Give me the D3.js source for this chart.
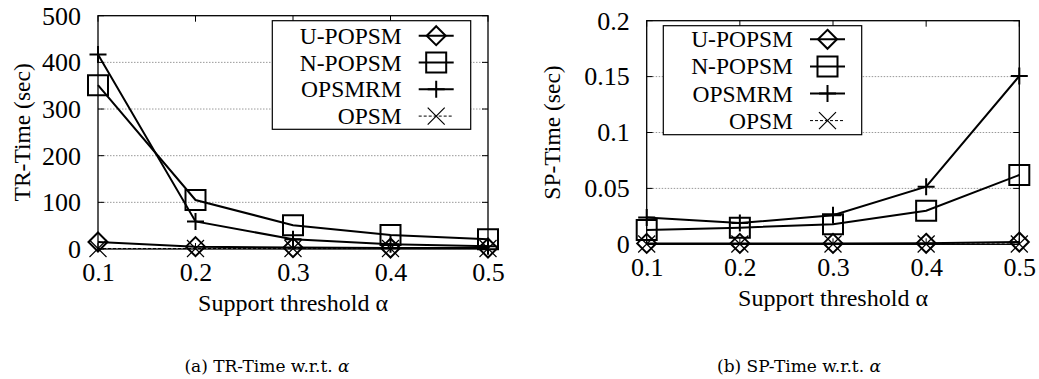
<!DOCTYPE html>
<html>
<head>
<meta charset="utf-8">
<script src="https://cdn.jsdelivr.net/npm/d3@7"></script>
<style>
  body { margin: 0; background: #fff; }
  svg { display: block; }
  text { font-family: "Liberation Serif", "Times New Roman", serif; fill: #000; }
  .caption { font-family: "DejaVu Serif", serif; }
</style>
</head>
<body>
<div id="chart"></div>
<script>
var width = 1039;
var height = 379;

// support threshold values on the x axis
var alphas = [0.1, 0.2, 0.3, 0.4, 0.5];
var seriesNames = ["U-POPSM", "N-POPSM", "OPSMRM", "OPSM"];
var markerKinds = ["diamond", "square", "plus", "cross"];

// (a) TR-Time in seconds
var trUPopsm = [15, 5, 3, 2, 2];
var trNPopsm = [351, 105, 51, 30, 21];
var trOpsmrm = [417, 59, 21, 10, 6];
var trOpsm = [1, 1, 1, 1, 1];
var trTicks = [0, 100, 200, 300, 400, 500];

// (b) SP-Time in seconds
var spUPopsm = [0.0008, 0.0008, 0.0008, 0.0009, 0.002];
var spNPopsm = [0.0128, 0.0149, 0.018, 0.030, 0.062];
var spOpsmrm = [0.024, 0.019, 0.026, 0.0515, 0.1505];
var spOpsm = [0.0003, 0.0003, 0.0003, 0.0003, 0.0003];
var spTicks = [0, 0.05, 0.1, 0.15, 0.2];

var svg = d3.select("#chart").append("svg")
  .attr("width", width)
  .attr("height", height);

var markerPath = function(kind){
  if (kind == "diamond") return "M0,-9.5L9.5,0L0,9.5L-9.5,0Z";
  if (kind == "square") return "M-10,-10H10V10H-10Z";
  if (kind == "plus") return "M-8.5,0H8.5M0,-8.5V8.5";
  return "M-8.5,-8.5L8.5,8.5M-8.5,8.5L8.5,-8.5";
};

var drawPanel = function(p){
  var x = d3.scaleLinear().domain([0.1, 0.5]).range([p.left, p.right]);
  var y = d3.scaleLinear().domain([0, p.ticks[p.ticks.length-1]]).range([p.bottom, p.top]);
  var g = svg.append("g");

  // dotted grid
  g.selectAll("line.grid").data(p.ticks.slice(1, -1)).enter().append("line")
    .attr("x1", p.left).attr("x2", p.right)
    .attr("y1", function(d){ return y(d); }).attr("y2", function(d){ return y(d); })
    .style("stroke", "#999").style("stroke-width", 1).style("stroke-dasharray", "1.5,1.5");

  // inward ticks on all four sides
  alphas.forEach(function(a){
    g.append("line").attr("x1", x(a)).attr("x2", x(a)).attr("y1", p.bottom).attr("y2", p.bottom-6).style("stroke", "#000");
    g.append("line").attr("x1", x(a)).attr("x2", x(a)).attr("y1", p.top).attr("y2", p.top+6).style("stroke", "#000");
  });
  p.ticks.forEach(function(t){
    g.append("line").attr("x1", p.left).attr("x2", p.left+6).attr("y1", y(t)).attr("y2", y(t)).style("stroke", "#000");
    g.append("line").attr("x1", p.right).attr("x2", p.right-6).attr("y1", y(t)).attr("y2", y(t)).style("stroke", "#000");
  });

  // tick labels via d3 axes
  var xAxis = g.append("g").attr("transform", "translate(0," + p.bottom + ")")
    .call(d3.axisBottom(x).tickValues(alphas).tickSize(0).tickPadding(p.xPad).tickFormat(d3.format(".1f")));
  var yAxis = g.append("g").attr("transform", "translate(" + p.left + ",0)")
    .call(d3.axisLeft(y).tickValues(p.ticks).tickSize(0).tickPadding(17).tickFormat(function(d){ return d3.format("~g")(d); }));
  [xAxis, yAxis].forEach(function(ax){
    ax.select(".domain").remove();
    ax.attr("font-family", "Liberation Serif").attr("font-size", 26);
    ax.selectAll("text").style("font-family", "Liberation Serif").style("font-size", "26px");
  });

  // frame
  g.append("rect").attr("x", p.left).attr("y", p.top)
    .attr("width", p.right - p.left).attr("height", p.bottom - p.top)
    .style("fill", "none").style("stroke", "#000").style("stroke-width", 1.3);

  // series
  var line = d3.line().x(function(d, i){ return x(alphas[i]); }).y(function(d){ return y(d); });
  p.series.forEach(function(vals, s){
    var dashed = s == 3;
    g.append("path").attr("d", line(vals))
      .style("fill", "none").style("stroke", "#000")
      .style("stroke-width", dashed ? 1 : 2)
      .style("stroke-dasharray", dashed ? "3,2" : null);
    g.selectAll("path.m" + s).data(vals).enter().append("path")
      .attr("transform", function(d, i){ return "translate(" + x(alphas[i]) + "," + y(d) + ")"; })
      .attr("d", markerPath(markerKinds[s]))
      .style("fill", "none").style("stroke", "#000").style("stroke-width", dashed ? 1.2 : 2);
  });

  // legend
  var lg = g.append("g");
  lg.append("rect").attr("x", p.legX).attr("y", p.legY)
    .attr("width", p.legW).attr("height", p.legH)
    .style("fill", "#fff").style("stroke", "#000").style("stroke-width", 1.2);
  seriesNames.forEach(function(name, s){
    var ly = p.legRow0 + s * p.legStep;
    var dashed = s == 3;
    lg.append("text").attr("x", p.legTextX).attr("y", ly + 8).attr("text-anchor", "end")
      .style("font-size", "23.5px").text(name);
    lg.append("line").attr("x1", p.legTextX + 17).attr("x2", p.legTextX + 52)
      .attr("y1", ly).attr("y2", ly)
      .style("stroke", "#000").style("stroke-width", dashed ? 1 : 2)
      .style("stroke-dasharray", dashed ? "3,2" : null);
    lg.append("path").attr("transform", "translate(" + (p.legTextX + 34.5) + "," + ly + ")")
      .attr("d", markerPath(markerKinds[s]))
      .style("fill", "none").style("stroke", "#000").style("stroke-width", dashed ? 1.2 : 2);
  });

  // axis titles
  g.append("text")
    .attr("transform", "translate(" + p.yLabelX + "," + ((p.top + p.bottom) / 2) + ") rotate(-90)")
    .attr("text-anchor", "middle").attr("dy", "0.35em")
    .style("font-size", "23.5px").text(p.yLabel);
  g.append("text").attr("x", (p.left + p.right) / 2).attr("y", p.xLabelY)
    .attr("text-anchor", "middle").style("font-size", "24px").text("Support threshold α");

  g.append("text").attr("class", "caption").attr("x", p.capX).attr("y", 372)
    .attr("text-anchor", "middle").style("font-size", "17px").text(p.caption)
    .append("tspan").style("font-style", "italic").text("α");
};

drawPanel({
  left: 98, right: 488, top: 15.7, bottom: 249,
  ticks: trTicks, series: [trUPopsm, trNPopsm, trOpsmrm, trOpsm],
  xPad: 14, yLabel: "TR-Time (sec)", yLabelX: 22, xLabelY: 311,
  legX: 272.3, legY: 20.7, legW: 198.4, legH: 108.6,
  legTextX: 401.7, legRow0: 35.7, legStep: 26.8,
  caption: "(a)  TR-Time w.r.t. ", capX: 267
});

drawPanel({
  left: 646.7, right: 1019.3, top: 20.7, bottom: 244.3,
  ticks: spTicks, series: [spUPopsm, spNPopsm, spOpsmrm, spOpsm],
  xPad: 13, yLabel: "SP-Time (sec)", yLabelX: 552, xLabelY: 306,
  legX: 663.3, legY: 25.7, legW: 198.4, legH: 109,
  legTextX: 793, legRow0: 39.3, legStep: 27.1,
  caption: "(b)  SP-Time w.r.t. ", capX: 799
});
</script>
</body>
</html>
